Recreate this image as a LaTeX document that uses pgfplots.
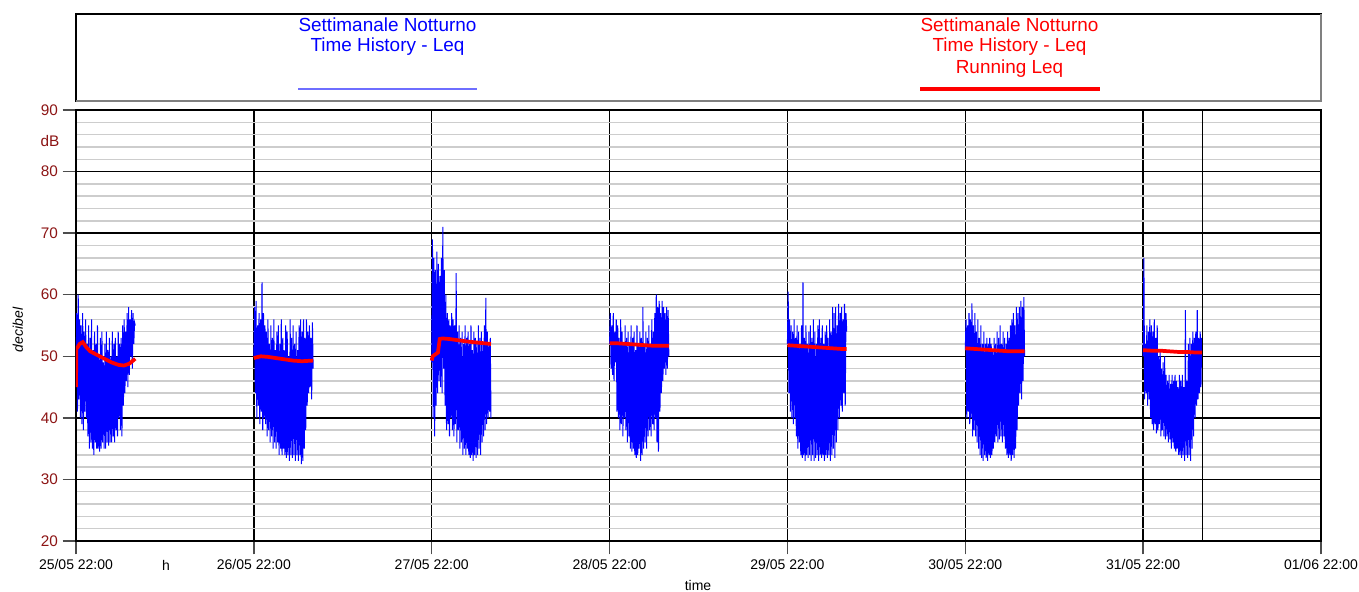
\documentclass[border=0pt]{standalone}
\usepackage{pgfplots}
\usepackage{pgfplotstable}
\pgfplotsset{compat=1.18}
\usepackage{fontspec}
\setmainfont{Liberation Sans}
\definecolor{dred}{RGB}{140,20,20}
\definecolor{mgray}{RGB}{205,205,205}
\definecolor{lblue}{RGB}{110,110,255}

\pgfplotstableread[row sep=\\]{
db\\
45\\57\\41\\60\\43\\56\\40\\55\\39\\57\\
38\\54\\41\\56\\40\\52\\37\\55\\35\\53\\
36\\56\\35\\51\\34\\54\\36\\52\\35\\55\\
35\\50\\34.5\\53\\35\\54\\36\\49\\35\\52\\
35\\54\\36\\51\\35.5\\53\\36\\50\\36\\54\\
37\\52\\36\\53\\38\\50\\37\\54\\40\\52\\
38\\53\\37\\55\\42\\56\\44\\54\\46\\57\\
45\\58\\47\\56\\50\\57.5\\48\\57\\52\\55.5\\
55\\
}\nA
\pgfplotstableread[row sep=\\]{
db\\
50\\58\\44\\59\\40\\55\\42\\57\\39\\56\\
41\\62\\38\\57\\40\\55\\39\\54\\37\\56\\
38\\52\\36\\55\\37\\53\\35\\56\\36\\51\\
35\\54\\36\\55\\34\\52\\35\\56\\34\\53\\
35\\51\\34\\55\\33.5\\54\\34\\50\\33\\56\\
34\\53\\33.5\\55\\34\\52\\33\\54\\34\\51\\
33\\55\\34\\56\\32.5\\54\\33\\56\\35\\53\\
38\\56\\42\\54\\44\\55\\45\\53\\43\\55.5\\
48\\
}\nB
\pgfplotstableread[row sep=\\]{
db\\
49\\69\\40\\66\\37\\64\\42\\67\\44\\65\\
46\\63\\45\\66\\44\\71\\48\\64\\42\\60\\
38\\57\\39\\56\\37\\55\\40\\57\\38\\56\\
37\\55\\39\\63.5\\36\\54\\38\\55\\35\\53\\
36\\54\\34\\52\\35\\55\\34\\53\\35\\54\\
34\\52\\33.5\\55\\34\\51\\33\\54\\34\\53\\
33.5\\52\\34\\55\\35\\53\\34\\54\\36\\52\\
37\\55\\38\\59.5\\39\\54\\40\\52\\41\\53\\
40\\
}\nC
\pgfplotstableread[row sep=\\]{
db\\
52\\57\\48\\55\\47\\57\\46\\54\\49\\56\\
41\\55\\40\\53\\38\\56\\39\\54\\37\\52\\
40\\55\\38\\53\\36\\54\\37\\52\\35\\55\\
34.5\\53\\35\\54\\34\\51\\33.5\\55\\34\\52\\
35\\54\\33\\53\\34\\58\\35\\52\\36\\54\\
35\\53\\37\\55\\38\\52\\37\\56\\39\\54\\
38\\57\\40\\60\\36\\58\\34.5\\59\\41\\57\\
44\\59\\46\\58\\48\\57\\47\\58\\48\\57.5\\
50\\
}\nD
\pgfplotstableread[row sep=\\]{
db\\
52\\60.5\\44\\56\\41\\55\\40\\54\\39\\56\\
40\\53\\37\\55\\35\\54\\36\\52\\34\\55\\
33.5\\62\\34\\53\\33\\55\\34\\52\\33.5\\54\\
34\\55\\33\\53\\34\\56\\33\\54\\33.5\\52\\
34\\55\\33\\56\\34\\53\\33.5\\55\\34\\52\\
33\\54\\34\\55\\33.5\\53\\34\\56\\33\\54\\
34\\58\\35\\57\\33.5\\58\\36\\55\\38\\58.5\\
40\\57\\42\\58\\41\\56\\44\\58.5\\42\\57\\
54\\
}\nE
\pgfplotstableread[row sep=\\]{
db\\
51\\56\\40\\55\\41\\57\\39\\56\\40\\58.6\\
37\\55\\38\\57\\37\\54\\36\\56\\35\\53\\
34\\55\\33.5\\52\\33\\54\\34\\52\\33.5\\53\\
33\\52\\34\\53\\33.5\\52\\34\\51\\35\\53\\
36\\52\\37\\54\\36\\53\\36.5\\55\\37\\52\\
36\\54\\37\\53\\35\\52\\34\\54\\33.5\\53\\
34\\55\\33\\56\\34\\57\\33.5\\55\\35\\58\\
38\\57\\42\\58\\44\\59\\43\\58\\46\\59.6\\
50\\
}\nF
\pgfplotstableread[row sep=\\]{
db\\
50\\66\\43\\52\\44\\55\\42\\54\\43\\56\\
40\\55\\39\\54\\38\\56\\39\\53\\37.5\\55\\
38\\50\\39\\51\\37\\48\\38\\49\\37\\50\\
36.5\\47\\37\\46\\36\\47\\36.5\\45.5\\35\\47\\
36\\46\\35\\47\\34.5\\46\\35\\45\\34\\47\\
34\\46\\33.5\\47\\34\\45\\33\\57.5\\34\\46\\
33.5\\52\\34\\53\\33\\52\\35\\54\\37\\53\\
40\\54\\42\\57.5\\43\\53\\44\\54\\45\\53\\
50\\
}\nG

\begin{document}
\begin{tikzpicture}
\begin{scope}[shift={(-57pt,-38.25pt)},x=0.75pt,y=0.75pt]
% legend box
\draw[black, line width=0.9pt] (76,578) rectangle (1321,491);
\draw[gray, line width=1.3pt] (76,491) -- (1321,491) -- (1321,578);
\node[blue, font=\fontsize{14.2}{16}\selectfont] at (387.5,567) {Settimanale Notturno};
\node[blue, font=\fontsize{14.2}{16}\selectfont] at (387.5,545) {Time History - Leq};
\draw[lblue, line width=1.3pt] (298,503) -- (477,503);
\node[red, font=\fontsize{14.2}{16}\selectfont] at (1009.5,567) {Settimanale Notturno};
\node[red, font=\fontsize{14.2}{16}\selectfont] at (1009.5,545) {Time History - Leq};
\node[red, font=\fontsize{14.2}{16}\selectfont] at (1009.5,523) {Running Leq};
\draw[red, line width=2.4pt] (920,503) -- (1100,503);
% side labels
\node[dred, font=\fontsize{11.5}{12}\selectfont] at (50,451) {dB};
\node[black, rotate=90, font=\itshape\fontsize{10.5}{12}\selectfont] at (18,262) {decibel};
\node[black, font=\fontsize{10.5}{12}\selectfont] at (698,7) {time};
\node[black, font=\fontsize{10.5}{12}\selectfont] at (166,27) {h};
\end{scope}
\begin{axis}[
  at={(0pt,0pt)}, anchor=south west, scale only axis,
  width=933.75pt, height=323.25pt,
  xmin=0, xmax=7, ymin=20, ymax=90,
  xtick={0,1,2,3,4,5,6,7},
  xticklabels={25/05 22:00,26/05 22:00,27/05 22:00,28/05 22:00,29/05 22:00,30/05 22:00,31/05 22:00,01/06 22:00},
  ytick={20,30,40,50,60,70,80,90},
  minor ytick={22,24,26,28,32,34,36,38,42,44,46,48,52,54,56,58,62,64,66,68,72,74,76,78,82,84,86,88},
  xmajorgrids, ymajorgrids, yminorgrids,
  major grid style={black, line width=1.1pt},
  minor grid style={mgray, line width=1.1pt},
  axis line style={black, line width=1.1pt},
  tick align=outside, major tick length=10pt, minor tick length=0pt,
  xtick pos=bottom, ytick pos=left,
  tick style={black!70, line width=1pt},
  /pgf/number format/assume math mode=true,
  yticklabel style={dred, font=\fontsize{11.5}{12}\selectfont},
  xticklabel style={black, font=\fontsize{10.5}{12}\selectfont},
]
\addplot[blue, line width=0.75pt] table[x expr=\coordindex/240, y=db] {\nA};
\addplot[blue, line width=0.75pt] table[x expr=\coordindex/240+1, y=db] {\nB};
\addplot[blue, line width=0.75pt] table[x expr=\coordindex/240+2, y=db] {\nC};
\addplot[blue, line width=0.75pt] table[x expr=\coordindex/240+3, y=db] {\nD};
\addplot[blue, line width=0.75pt] table[x expr=\coordindex/240+4, y=db] {\nE};
\addplot[blue, line width=0.75pt] table[x expr=\coordindex/240+5, y=db] {\nF};
\addplot[blue, line width=0.75pt] table[x expr=\coordindex/240+6, y=db] {\nG};
\addplot[red, line width=2.8pt] coordinates {(0,45) (0.002,51.2) (0.01,51.5) (0.02,52.0) (0.038,52.3) (0.06,51.4) (0.08,50.8) (0.12,50.2) (0.16,49.6) (0.2,49.0) (0.24,48.6) (0.27,48.5) (0.3,48.8) (0.333,49.6)};
\addplot[red, line width=2.8pt] coordinates {(1,49.7) (1.01,49.8) (1.04,50.0) (1.08,49.9) (1.15,49.6) (1.22,49.3) (1.27,49.2) (1.333,49.3)};
\addplot[red, line width=2.8pt] coordinates {(2,49.3) (2.005,50.0) (2.02,50.3) (2.035,50.6) (2.045,52.8) (2.06,52.9) (2.1,52.8) (2.2,52.4) (2.333,52.0)};
\addplot[red, line width=2.8pt] coordinates {(3,52.1) (3.05,52.1) (3.1,52.0) (3.15,51.9) (3.2,51.8) (3.25,51.7) (3.3,51.7) (3.333,51.7)};
\addplot[red, line width=2.8pt] coordinates {(4,51.8) (4.05,51.7) (4.1,51.6) (4.15,51.5) (4.2,51.4) (4.25,51.3) (4.3,51.2) (4.333,51.2)};
\addplot[red, line width=2.8pt] coordinates {(5,51.3) (5.05,51.2) (5.1,51.1) (5.15,51.0) (5.2,50.9) (5.25,50.8) (5.3,50.8) (5.333,50.8)};
\addplot[red, line width=2.8pt] coordinates {(6,51.0) (6.05,50.9) (6.1,50.9) (6.15,50.8) (6.2,50.7) (6.25,50.7) (6.3,50.6) (6.333,50.6)};
\addplot[black, line width=1pt] coordinates {(6.333,20) (6.333,90)};
\end{axis}
\pgfresetboundingbox
\path[use as bounding box] (-57pt,-38.25pt) rectangle ++(1019.25pt,444pt);
\end{tikzpicture}
\end{document}
